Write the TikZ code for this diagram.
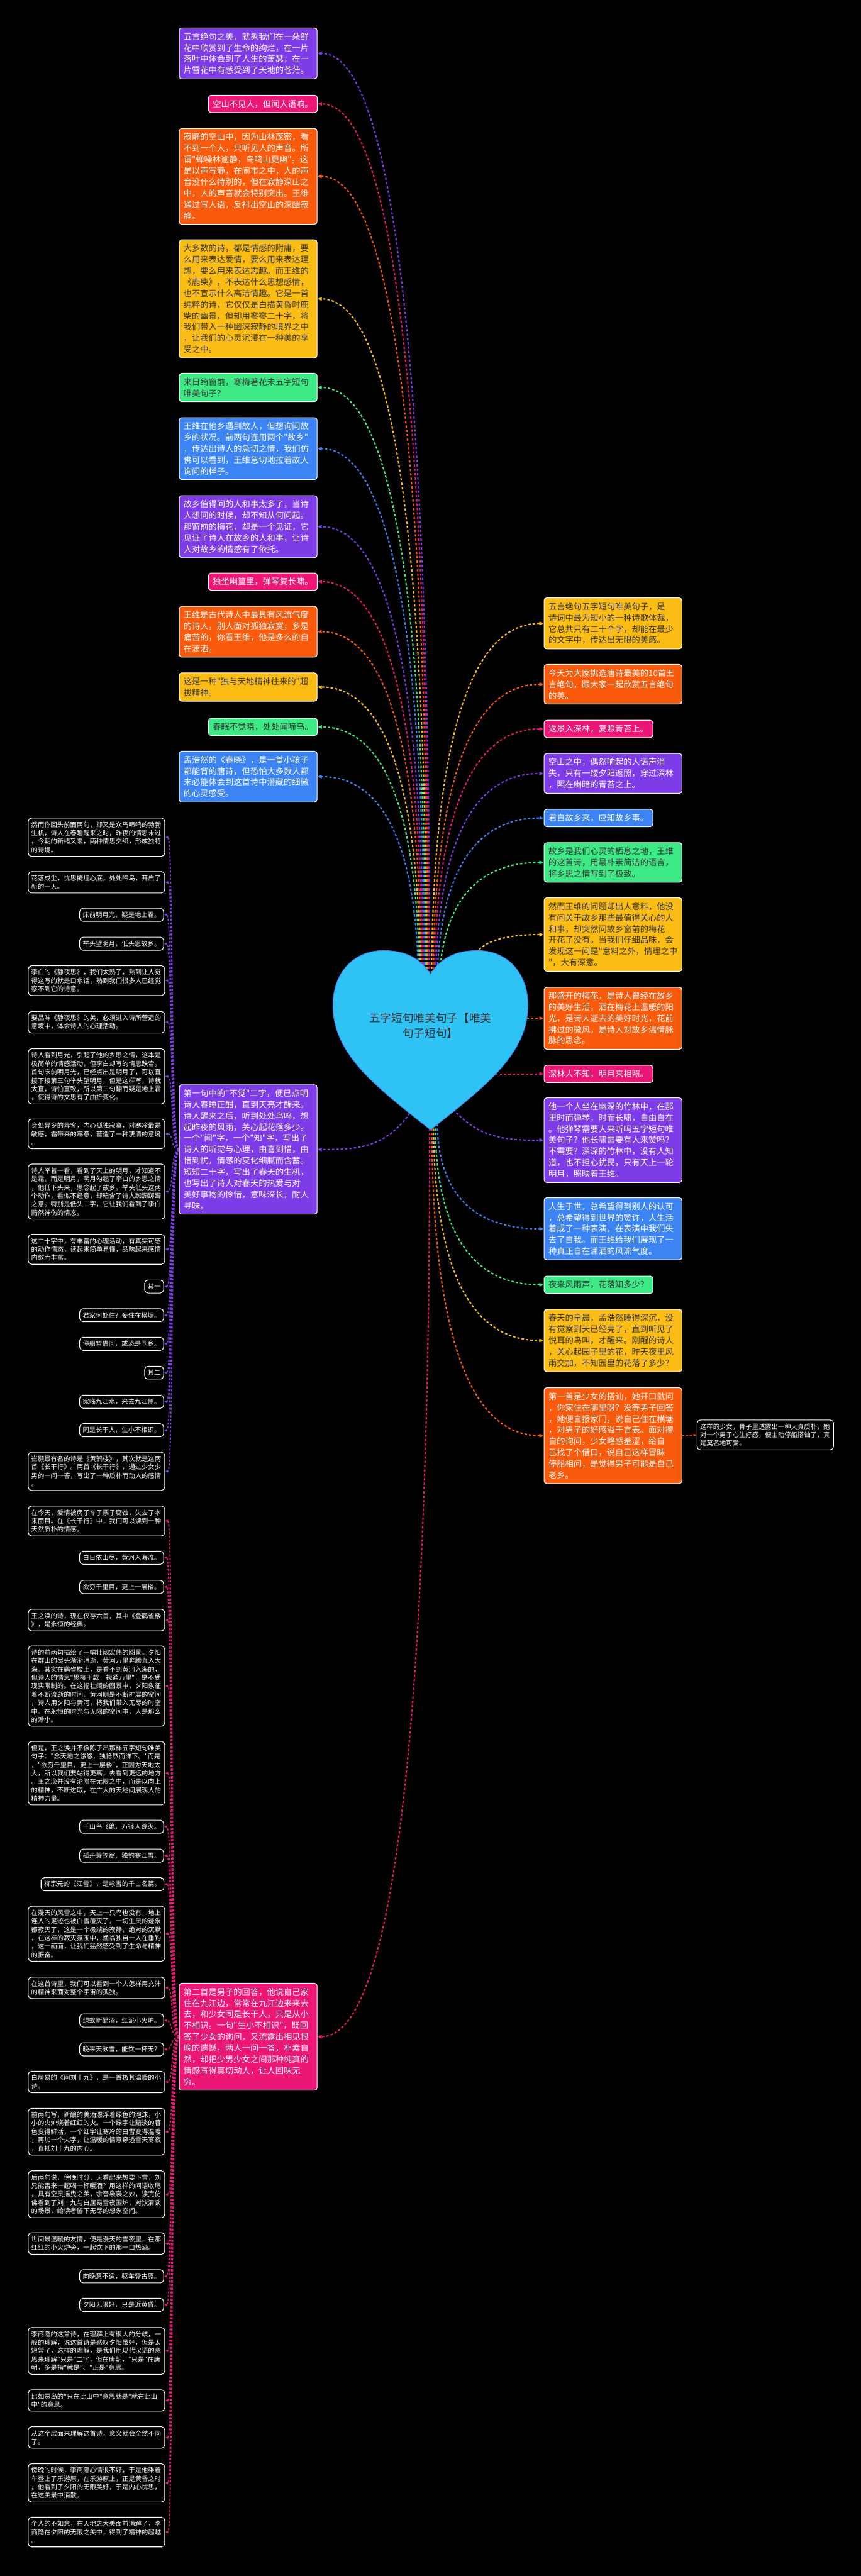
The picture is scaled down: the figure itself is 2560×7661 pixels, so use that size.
\documentclass[tikz,border=0pt]{standalone}
\usepackage{fontspec}
\newfontfamily\cjk{Noto Sans CJK SC}
\usetikzlibrary{arrows.meta,calc}
\pgfdeclarelayer{back}
\pgfdeclarelayer{bg}
\pgfsetlayers{back,bg,main}

\definecolor{cpurple}{HTML}{7D3CE8}
\definecolor{cpink}{HTML}{EC1677}
\definecolor{corange}{HTML}{FA5A0C}
\definecolor{cyellow}{HTML}{FBBD14}
\definecolor{cgreen}{HTML}{3EEA86}
\definecolor{cblue}{HTML}{3C84F4}
\definecolor{heartblue}{HTML}{2FC3F5}
\definecolor{darktext}{HTML}{333333}

\tikzset{
  topic/.style={draw=white, line width=1pt, rounded corners=4pt, anchor=north west, align=left,
    inner xsep=6.5pt, inner ysep=7pt, font=\cjk\fontsize{12.4}{16.7}\selectfont},
  longtopic/.style={topic, text width=192pt},
  purplebox/.style={fill=cpurple, text=white},
  pinkbox/.style={fill=cpink, text=white},
  orangebox/.style={fill=corange, text=white},
  yellowbox/.style={fill=cyellow, text=darktext},
  greenbox/.style={fill=cgreen, text=darktext},
  bluebox/.style={fill=cblue, text=white},
  sub/.style={draw=white, fill=black, text=white, line width=1pt, rounded corners=5pt, anchor=north west,
    align=left, inner xsep=4.5pt, inner ysep=5.2pt, font=\cjk\fontsize{9.65}{12.5}\selectfont},
  longsub/.style={sub, text width=194pt},
  link/.style={draw=#1, line width=2pt, dash pattern=on 3.5pt off 3pt, -{Triangle[length=6.5pt,width=5pt]}},
  sublink/.style={draw=#1, line width=1.6pt, dash pattern=on 3pt off 2.5pt, -{Triangle[length=4.5pt,width=3.5pt]}},
}

\begin{document}
\begin{tikzpicture}[x=0.5pt,y=-0.5pt]
  \begin{pgfonlayer}{back}
    \fill[black] (0,0) rectangle (2560,7661);
  \end{pgfonlayer}
  \useasboundingbox (0,0) rectangle (2560,7661);

  % heart
  \fill[heartblue, draw=cblue, line width=1pt] (1280,2896) .. controls (1245,2845) and (1200,2827) .. (1140,2827)
    .. controls (1050,2827) and (990,2895) .. (990,2990) .. controls (990,3140) and (1130,3240) .. (1280,3360)
    .. controls (1430,3240) and (1570,3140) .. (1570,2990) .. controls (1570,2895) and (1510,2827) .. (1420,2827)
    .. controls (1360,2827) and (1315,2845) .. (1280,2896) -- cycle;
  \node[align=center, text=darktext, font=\cjk\fontsize{16.5}{22.3}\selectfont] (root) at (1280,3050)
    {五字短句唯美句子【唯美\\句子短句】};

  % left topics
  \node[longtopic, purplebox] (L1) at (532,82) {五言绝句之美，就象我们在一朵鲜\\花中欣赏到了生命的绚烂，在一片\\落叶中体会到了人生的萧瑟，在一\\片雪花中有感受到了天地的苍茫。};
  \node[topic, pinkbox] (L2) at (619,282) {空山不见人，但闻人语响。};
  \node[longtopic, orangebox] (L3) at (532,381) {寂静的空山中，因为山林茂密，看\\不到一个人，只听见人的声音。所\\谓"蝉噪林逾静，鸟鸣山更幽"。这\\是以声写静，在闹市之中，人的声\\音没什么特别的，但在寂静深山之\\中，人的声音就会特别突出。王维\\通过写人语，反衬出空山的深幽寂\\静。};
  \node[longtopic, yellowbox] (L4) at (532,712) {大多数的诗，都是情感的附庸，要\\么用来表达爱情，要么用来表达理\\想，要么用来表达志趣。而王维的\\《鹿柴》，不表达什么思想感情，\\也不宣示什么高洁情趣。它是一首\\纯粹的诗，它仅仅是白描黄昏时鹿\\柴的幽景，但却用寥寥二十字，将\\我们带入一种幽深寂静的境界之中\\，让我们的心灵沉浸在一种美的享\\受之中。};
  \node[longtopic, greenbox] (L5) at (532,1109) {来日绮窗前，寒梅著花未五字短句\\唯美句子？};
  \node[longtopic, bluebox] (L6) at (532,1241) {王维在他乡遇到故人，但想询问故\\乡的状况。前两句连用两个"故乡"\\，传达出诗人的急切之情，我们仿\\佛可以看到，王维急切地拉着故人\\询问的样子。};
  \node[longtopic, purplebox] (L7) at (532,1473) {故乡值得问的人和事太多了，当诗\\人想问的时候，却不知从何问起。\\那窗前的梅花，却是一个见证，它\\见证了诗人在故乡的人和事，让诗\\人对故乡的情感有了依托。};
  \node[topic, pinkbox] (L8) at (619,1703) {独坐幽篁里，弹琴复长啸。};
  \node[longtopic, orangebox] (L9) at (532,1802) {王维是古代诗人中最具有风流气度\\的诗人，别人面对孤独寂寞，多是\\痛苦的，你看王维，他是多么的自\\在潇洒。};
  \node[longtopic, yellowbox] (L10) at (532,2000) {这是一种"独与天地精神往来的"超\\拔精神。};
  \node[topic, greenbox] (L11) at (619,2135) {春眠不觉晓，处处闻啼鸟。};
  \node[longtopic, bluebox] (L12) at (532,2233) {孟浩然的《春晓》，是一首小孩子\\都能背的唐诗，但恐怕大多数人都\\未必能体会到这首诗中潜藏的细微\\的心灵感受。};
  \node[longtopic, purplebox] (P1) at (532,3225) {第一句中的"不觉"二字，便已点明\\诗人春睡正酣，直到天亮才醒来。\\诗人醒来之后，听到处处鸟鸣，想\\起昨夜的风雨，关心起花落多少。\\一个"闻"字，一个"知"字，写出了\\诗人的听觉与心理，由喜到惜，由\\惜到忧，情感的变化细腻而含蓄。\\短短二十字，写出了春天的生机，\\也写出了诗人对春天的热爱与对\\美好事物的怜惜，意味深长，耐人\\寻味。};
  \node[longtopic, pinkbox] (P2) at (532,5897) {第二首是男子的回答，他说自己家\\住在九江边，常常在九江边来来去\\去，和少女同是长干人，只是从小\\不相识。一句"生小不相识"，既回\\答了少女的询问，又流露出相见恨\\晚的遗憾，两人一问一答，朴素自\\然，却把少男少女之间那种纯真的\\情感写得真切动人，让人回味无\\穷。};

  % right topics
  \node[longtopic, yellowbox] (R1) at (1617,1777) {五言绝句五字短句唯美句子，是\\诗词中最为短小的一种诗歌体裁，\\它总共只有二十个字，却能在最少\\的文字中，传达出无限的美感。};
  \node[longtopic, orangebox] (R2) at (1617,1975) {今天为大家挑选唐诗最美的10首五\\言绝句，跟大家一起欣赏五言绝句\\的美。};
  \node[topic, pinkbox] (R3) at (1617,2141) {返景入深林，复照青苔上。};
  \node[longtopic, purplebox] (R4) at (1617,2240) {空山之中，偶然响起的人语声消\\失，只有一缕夕阳返照，穿过深林\\，照在幽暗的青苔之上。};
  \node[topic, bluebox] (R5) at (1617,2406) {君自故乡来，应知故乡事。};
  \node[longtopic, greenbox] (R6) at (1617,2505) {故乡是我们心灵的栖息之地，王维\\的这首诗，用最朴素简洁的语言，\\将乡思之情写到了极致。};
  \node[longtopic, yellowbox] (R7) at (1617,2669) {然而王维的问题却出人意料，他没\\有问关于故乡那些最值得关心的人\\和事，却突然问故乡窗前的梅花\\开花了没有。当我们仔细品味，会\\发现这一问是"意料之外，情理之中\\"，大有深意。};
  \node[longtopic, orangebox] (R8) at (1617,2935) {那盛开的梅花，是诗人曾经在故乡\\的美好生活，洒在梅花上温暖的阳\\光，是诗人逝去的美好时光，花前\\拂过的微风，是诗人对故乡温情脉\\脉的思念。};
  \node[topic, pinkbox] (R9) at (1617,3167) {深林人不知，明月来相照。};
  \node[longtopic, purplebox] (R10) at (1617,3264) {他一个人坐在幽深的竹林中，在那\\里时而弹琴，时而长啸，自由自在\\。他弹琴需要人来听吗五字短句唯\\美句子？他长啸需要有人来赞吗？\\不需要？深深的竹林中，没有人知\\道，也不担心扰民，只有天上一轮\\明月，照映着王维。};
  \node[longtopic, bluebox] (R11) at (1617,3561) {人生于世，总希望得到别人的认可\\，总希望得到世界的赞许，人生活\\着成了一种表演，在表演中我们失\\去了自我。而王维给我们展现了一\\种真正自在潇洒的风流气度。};
  \node[topic, greenbox] (R12) at (1617,3794) {夜来风雨声，花落知多少？};
  \node[longtopic, yellowbox] (R13) at (1617,3893) {春天的早晨，孟浩然睡得深沉，没\\有觉察到天已经亮了，直到听见了\\悦耳的鸟叫，才醒来。刚醒的诗人\\，关心起园子里的花，昨天夜里风\\雨交加，不知园里的花落了多少？};
  \node[longtopic, orangebox] (R14) at (1617,4126) {第一首是少女的搭讪，她开口就问\\，你家住在哪里呀？没等男子回答\\，她便自报家门，说自己住在横塘\\，对男子的好感溢于言表。面对擅\\自的询问，少女略感羞涩，给自\\己找了个借口，说自己这样冒昧\\停船相问，是觉得男子可能是自己\\老乡。};
  \node[longsub] (F1) at (2072,4222) {这样的少女，骨子里透露出一种天真质朴，她\\对一个男子心生好感，便主动停船搭讪了，真\\是莫名地可爱。};

  % left details, first group
  \node[longsub] (B1) at (83,2432) {然而你回头前面两句，却又是众鸟啼鸣的勃勃\\生机，诗人在春睡醒来之时，昨夜的情思未过\\，今朝的新绪又来，两种情思交织，形成独特\\的诗境。};
  \node[longsub] (B2) at (83,2591) {花落成尘，忧思掩埋心底，处处啼鸟，开启了\\新的一天。};
  \node[sub] (B3) at (236,2700) {床前明月光，疑是地上霜。};
  \node[sub] (B4) at (236,2786) {举头望明月，低头思故乡。};
  \node[longsub] (B5) at (83,2871) {李白的《静夜思》，我们太熟了，熟到让人觉\\得这写的就是口水话，熟到我们很多人已经觉\\察不到它的诗意。};
  \node[longsub] (B6) at (83,3007) {要品味《静夜思》的美，必须进入诗所营造的\\意境中，体会诗人的心理活动。};
  \node[longsub] (B7) at (83,3118) {诗人看到月光，引起了他的乡思之情，这本是\\极简单的情感活动，但李白却写的情思跌宕。\\首句床前明月光，已经点出是明月了，可以直\\接下接第三句举头望明月，但是这样写，诗就\\太直，诗怕直致，所以第二句翻而疑是地上霜\\，使得诗的文思有了曲折变化。};
  \node[longsub] (B8) at (83,3327) {身处异乡的异客，内心孤独寂寞，对寒冷最是\\敏感，霜带来的寒意，营造了一种凄清的意境\\。};
  \node[longsub] (B9) at (83,3461) {诗人举着一看，看到了天上的明月，才知道不\\是霜，而是明月，明月勾起了李白的乡思之情\\，他低下头来，思念起了故乡。举头低头这两\\个动作，看似不经意，却暗含了诗人踟蹰踯躅\\之意。特别是低头二字，它让我们看到了李白\\黯然神伤的情态。};
  \node[longsub] (B10) at (83,3670) {这二十字中，有丰富的心理活动，有真实可感\\的动作情态，读起来简单易懂，品味起来感情\\内敛而丰富。};
  \node[sub] (B11) at (429,3806) {其一};
  \node[sub] (B12) at (236,3891) {君家何处住？妾住在横塘。};
  \node[sub] (B13) at (236,3976) {停船暂借问，或恐是同乡。};
  \node[sub] (B14) at (429,4062) {其二};
  \node[sub] (B15) at (236,4148) {家临九江水，来去九江侧。};
  \node[sub] (B16) at (236,4233) {同是长干人，生小不相识。};
  \node[longsub] (B17) at (83,4318) {崔颢最有名的诗是《黄鹤楼》，其次就是这两\\首《长干行》。两首《长干行》，通过少女少\\男的一问一答，写出了一种质朴而动人的感情\\。};

  % left details, second group
  \node[longsub] (C1) at (83,4478) {在今天，爱情被房子车子票子腐蚀，失去了本\\来面目。在《长干行》中，我们可以读到一种\\天然质朴的情感。};
  \node[sub] (C2) at (236,4612) {白日依山尽，黄河入海流。};
  \node[sub] (C3) at (236,4699) {欲穷千里目，更上一层楼。};
  \node[longsub] (C4) at (83,4785) {王之涣的诗，现在仅存六首，其中《登鹳雀楼\\》，是永恒的经典。};
  \node[longsub] (C5) at (83,4894) {诗的前两句描绘了一幅壮阔宏伟的图景。夕阳\\在群山的尽头渐渐消逝，黄河万里奔腾直入大\\海。其实在鹳雀楼上，是看不到黄河入海的，\\但诗人的情思"思接千载，视通万里"，是不受\\现实限制的。在这幅壮阔的图景中，夕阳象征\\着不断流逝的时间，黄河则是不断扩展的空间\\，诗人用夕阳与黄河，将我们带入无尽的时空\\中。在永恒的时光与无限的空间中，人是那么\\的渺小。};
  \node[longsub] (C6) at (83,5178) {但是，王之涣并不像陈子昂那样五字短句唯美\\句子："念天地之悠悠，独怆然而涕下。"而是\\，"欲穷千里目，更上一层楼"，正因为天地太\\大，所以我们要站得更高，去看到更远的地方\\。王之涣并没有沦陷在无限之中，而是以向上\\的精神，不断进取，在广大的天地间展现人的\\精神力量。};
  \node[sub] (C7) at (236,5412) {千山鸟飞绝，万径人踪灭。};
  \node[sub] (C8) at (236,5498) {孤舟蓑笠翁，独钓寒江雪。};
  \node[sub] (C9) at (121,5583) {柳宗元的《江雪》，是咏雪的千古名篇。};
  \node[longsub] (C10) at (83,5668) {在漫天的风雪之中，天上一只鸟也没有，地上\\连人的足迹也被白雪覆灭了，一切生灵的迹象\\都寂灭了，这是一个极端的寂静，绝对的沉默\\，在这样的寂灭氛围中，渔翁独自一人在垂钓\\，这一画面，让我们猛然感受到了生命与精神\\的振奋。};
  \node[longsub] (C11) at (83,5879) {在这首诗里，我们可以看到一个人怎样用充沛\\的精神来面对整个宇宙的孤独。};
  \node[sub] (C12) at (236,5988) {绿蚁新醅酒，红泥小火炉。};
  \node[sub] (C13) at (236,6074) {晚来天欲雪，能饮一杯无？};
  \node[longsub] (C14) at (83,6159) {白居易的《问刘十九》，是一首极其温暖的小\\诗。};
  \node[longsub] (C15) at (83,6269) {前两句写，新酿的美酒漂浮着绿色的泡沫，小\\小的火炉烧着红红的火。一个绿字让黯淡的暮\\色变得鲜活，一个红字让寒冷的白雪变得温暖\\，再加一个火字，让温暖的情意穿透雪天寒夜\\，直抵刘十九的内心。};
  \node[longsub] (C16) at (83,6455) {后两句说，傍晚时分，天看起来想要下雪，刘\\兄能否来一起喝一杯暖酒？用这样的问语收尾\\，具有空灵摇曳之美，余音袅袅之妙，读完仿\\佛看到了刘十九与白居易雪夜围炉，对饮清谈\\的场景，给读者留下无尽的想象空间。};
  \node[longsub] (C17) at (83,6639) {世间最温暖的友情，便是漫天的雪夜里，在那\\红红的小火炉旁，一起饮下的那一口热酒。};
  \node[sub] (C18) at (236,6749) {向晚意不适，驱车登古原。};
  \node[sub] (C19) at (236,6834) {夕阳无限好，只是近黄昏。};
  \node[longsub] (C20) at (83,6921) {李商隐的这首诗，在理解上有很大的分歧，一\\般的理解，说这首诗是感叹夕阳虽好，但是太\\短暂了，这样的理解，是我们用现代汉语的意\\思来理解"只是"二字，但在唐朝，"只是"在唐\\朝，多是指"就是"、"正是"意思。};
  \node[longsub] (C21) at (83,7106) {比如贾岛的"只在此山中"意思就是"就在此山\\中"的意思。};
  \node[longsub] (C22) at (83,7216) {从这个层面来理解这首诗，意义就会全然不同\\了。};
  \node[longsub] (C23) at (83,7326) {傍晚的时候，李商隐心情很不好，于是他乘着\\车登上了乐游原，在乐游原上，正是黄昏之时\\，他看到了夕阳的无限美好，于是内心忧思，\\在这美景中消散。};
  \node[longsub] (C24) at (83,7485) {个人的不如意，在天地之大美面前消解了，李\\商隐在夕阳的无限之美中，得到了精神的超越\\。};

  % connectors
  \begin{pgfonlayer}{bg}
    \foreach \n/\c/\x in {L1/cpurple/1278,L2/cpink/1275,L3/corange/1272,L4/cyellow/1269,L5/cgreen/1266,
        L6/cblue/1263,L7/cpurple/1260,L8/cpink/1257,L9/corange/1254,L10/cyellow/1251,L11/cgreen/1248,L12/cblue/1245}{
      \coordinate (s) at (\x,2960);
      \coordinate (k) at (s |- \n.east);
      \draw[link=\c] (s) .. controls ($(s)!.67!(k)$) and ($(\n.east)!.67!(k)$) .. (\n.east);
    }
    \foreach \n/\c/\x in {R1/cyellow/1283,R2/corange/1287,R3/cpink/1291,R4/cpurple/1295,R5/cblue/1299,R6/cgreen/1305}{
      \coordinate (s) at (\x,2960);
      \coordinate (k) at (s |- \n.west);
      \draw[link=\c] (s) .. controls ($(s)!.67!(k)$) and ($(\n.west)!.67!(k)$) .. (\n.west);
    }
    \draw[link=cyellow] (1405,2870) .. controls (1405,2810) and (1480,0 |- R7.west) .. (R7.west);
    \draw[link=corange] (1540,0 |- R8.west) -- (R8.west);
    \draw[link=cpink] (1460,0 |- R9.west) -- (R9.west);
    \draw[link=cpurple] (1340,3290) .. controls (1420,3385) and (1500,0 |- R10.west) .. (R10.west);
    \draw[link=cpurple] (1225,3300) .. controls (1150,3420) and (1050,0 |- P1.east) .. (P1.east);
    \foreach \n/\c/\x in {R11/cblue/1300,R12/cgreen/1294,R13/cyellow/1289,R14/corange/1284}{
      \coordinate (s) at (\x,3330);
      \coordinate (k) at (s |- \n.west);
      \draw[link=\c] (s) .. controls ($(s)!.67!(k)$) and ($(\n.west)!.67!(k)$) .. (\n.west);
    }
    \coordinate (s) at (1278,3330);
    \coordinate (k) at (s |- P2.east);
    \draw[link=cpink] (s) .. controls ($(s)!.67!(k)$) and ($(P2.east)!.67!(k)$) .. (P2.east);
    \draw[sublink=corange] (R14.east) -- (F1.west);
    \foreach \n in {B1,B2,B3,B4,B5,B6,B7,B8,B9,B10,B11,B12,B13,B14,B15,B16,B17}
      \draw[sublink=cpurple] (P1.west) .. controls +(-25,0) and +(25,0) .. (\n.east);
    \foreach \n in {C1,C2,C3,C4,C5,C6,C7,C8,C9,C10,C11,C12,C13,C14,C15,C16,C17,C18,C19,C20,C21,C22,C23,C24}
      \draw[sublink=cpink] (P2.west) .. controls +(-25,0) and +(25,0) .. (\n.east);
  \end{pgfonlayer}
\end{tikzpicture}
\end{document}
